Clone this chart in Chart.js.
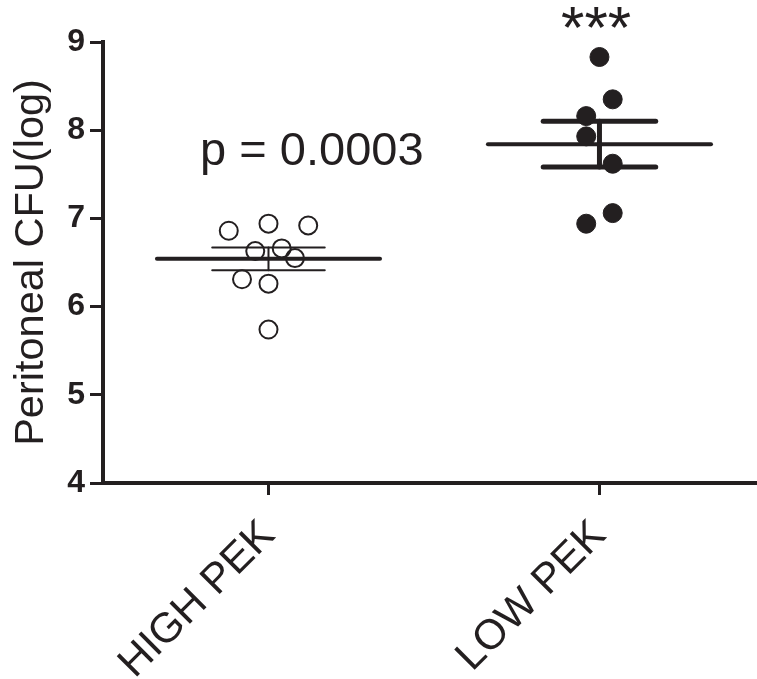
<!DOCTYPE html>
<html>
<head>
<meta charset="utf-8">
<script src="https://cdn.jsdelivr.net/npm/chart.js@4.4.1/dist/chart.umd.min.js"></script>
<style>
    html, body { margin: 0; padding: 0; background: #fff; }
    #wrap { width: 757px; height: 679px; position: relative; }
</style>
</head>
<body>
<div id="wrap"><canvas id="cfuChart"></canvas></div>
<script>
const categories = ['HIGH PEK', 'LOW PEK'];

// Peritoneal CFU (log), one value per animal
const highPekValues = [6.86, 6.94, 6.92, 6.63, 6.66, 6.55, 6.31, 6.26, 5.74];
const highPekJitter = [-0.12, 0, 0.12, -0.04, 0.04, 0.08, -0.08, 0, 0];
const lowPekValues = [8.83, 8.35, 8.16, 7.93, 7.62, 7.06, 6.94];
const lowPekJitter = [0, 0.04, -0.04, -0.04, 0.04, 0.04, -0.04];

const yTicks = [4, 5, 6, 7, 8, 9];
const pValueText = 'p = 0.0003';
const starsText = '***';

const ink = '#231f20';
Chart.defaults.font.family = '"Liberation Sans", Arial, sans-serif';

function meanSem(values) {
    const n = values.length;
    const mean = values.reduce((s, v) => s + v, 0) / n;
    const sd = Math.sqrt(values.reduce((s, v) => s + (v - mean) ** 2, 0) / (n - 1));
    return { mean, sem: sd / Math.sqrt(n) };
}

function segment(x1, y1, x2, y2, width) {
    return {
        data: [{ x: x1, y: y1 }, { x: x2, y: y2 }],
        showLine: true,
        borderColor: ink,
        borderWidth: width,
        borderCapStyle: 'round',
        pointRadius: 0,
        order: 2
    };
}

// mean line + SEM whiskers for a group
function errorBars(center, values, semWidth) {
    const { mean, sem } = meanSem(values);
    return [
        segment(center - 0.337, mean, center + 0.337, mean, 4),
        segment(center - 0.17, mean + sem, center + 0.17, mean + sem, semWidth),
        segment(center - 0.17, mean - sem, center + 0.17, mean - sem, semWidth),
        segment(center, mean - sem, center, mean + sem, semWidth)
    ];
}

const annotationPlugin = {
    id: 'annotations',
    afterDatasetsDraw(chart) {
        const { ctx, scales: { x, y } } = chart;
        ctx.save();
        ctx.fillStyle = ink;
        ctx.textAlign = 'center';
        ctx.textBaseline = 'alphabetic';
        ctx.font = '47px "Liberation Sans", Arial, sans-serif';
        ctx.fillText(pValueText, x.getPixelForValue(1.131), y.getPixelForValue(7.6));
        ctx.font = '60px "Liberation Sans", Arial, sans-serif';
        ctx.fillText(starsText, x.getPixelForValue(1.99), y.getPixelForValue(8.93));
        ctx.restore();
    }
};

const ctx = document.getElementById('cfuChart').getContext('2d');

new Chart(ctx, {
    type: 'scatter',
    data: {
        datasets: [
            {
                label: categories[0],
                data: highPekValues.map((v, i) => ({ x: 1 + highPekJitter[i], y: v })),
                pointRadius: 9,
                pointBorderWidth: 2,
                pointBorderColor: ink,
                pointBackgroundColor: 'rgba(255,255,255,0)',
                order: 1
            },
            {
                label: categories[1],
                data: lowPekValues.map((v, i) => ({ x: 2 + lowPekJitter[i], y: v })),
                pointRadius: 9.5,
                pointBorderWidth: 1,
                pointBorderColor: ink,
                pointBackgroundColor: ink,
                order: 1
            },
            ...errorBars(1, highPekValues, 2),
            ...errorBars(2, lowPekValues, 5)
        ]
    },
    options: {
        responsive: true,
        maintainAspectRatio: false,
        animation: false,
        layout: {
            autoPadding: false,
            padding: { top: 42, right: 0, bottom: 0, left: 0 }
        },
        plugins: {
            legend: { display: false },
            tooltip: { enabled: false }
        },
        scales: {
            x: {
                type: 'linear',
                min: 0.5,
                max: 2.476,
                afterBuildTicks: axis => {
                    axis.ticks = categories.map((_, i) => ({ value: i + 1 }));
                },
                afterFit: axis => {
                    axis.height = 196;
                    axis.paddingLeft = 0;
                    axis.paddingRight = 0;
                },
                ticks: {
                    callback: v => categories[v - 1] ?? '',
                    autoSkip: false,
                    minRotation: 45,
                    maxRotation: 45,
                    color: ink,
                    font: { size: 42 },
                    padding: 16
                },
                grid: {
                    drawOnChartArea: false,
                    drawTicks: true,
                    tickLength: 12,
                    tickWidth: 3,
                    tickColor: ink
                },
                border: { display: true, width: 4, color: ink }
            },
            y: {
                min: 4,
                max: 9,
                afterBuildTicks: axis => {
                    axis.ticks = yTicks.map(v => ({ value: v }));
                },
                afterFit: axis => {
                    axis.width = 103;
                    axis.paddingTop = 0;
                    axis.paddingBottom = 0;
                },
                ticks: {
                    color: ink,
                    font: { size: 32, weight: 'bold' },
                    padding: 5
                },
                grid: {
                    drawOnChartArea: false,
                    drawTicks: true,
                    tickLength: 13,
                    tickWidth: 3,
                    tickColor: ink
                },
                border: { display: true, width: 4, color: ink },
                title: {
                    display: true,
                    text: 'Peritoneal CFU(log)',
                    color: ink,
                    font: { size: 41.5 },
                    padding: { top: 7, bottom: 0 }
                }
            }
        }
    },
    plugins: [annotationPlugin]
});
</script>
</body>
</html>
